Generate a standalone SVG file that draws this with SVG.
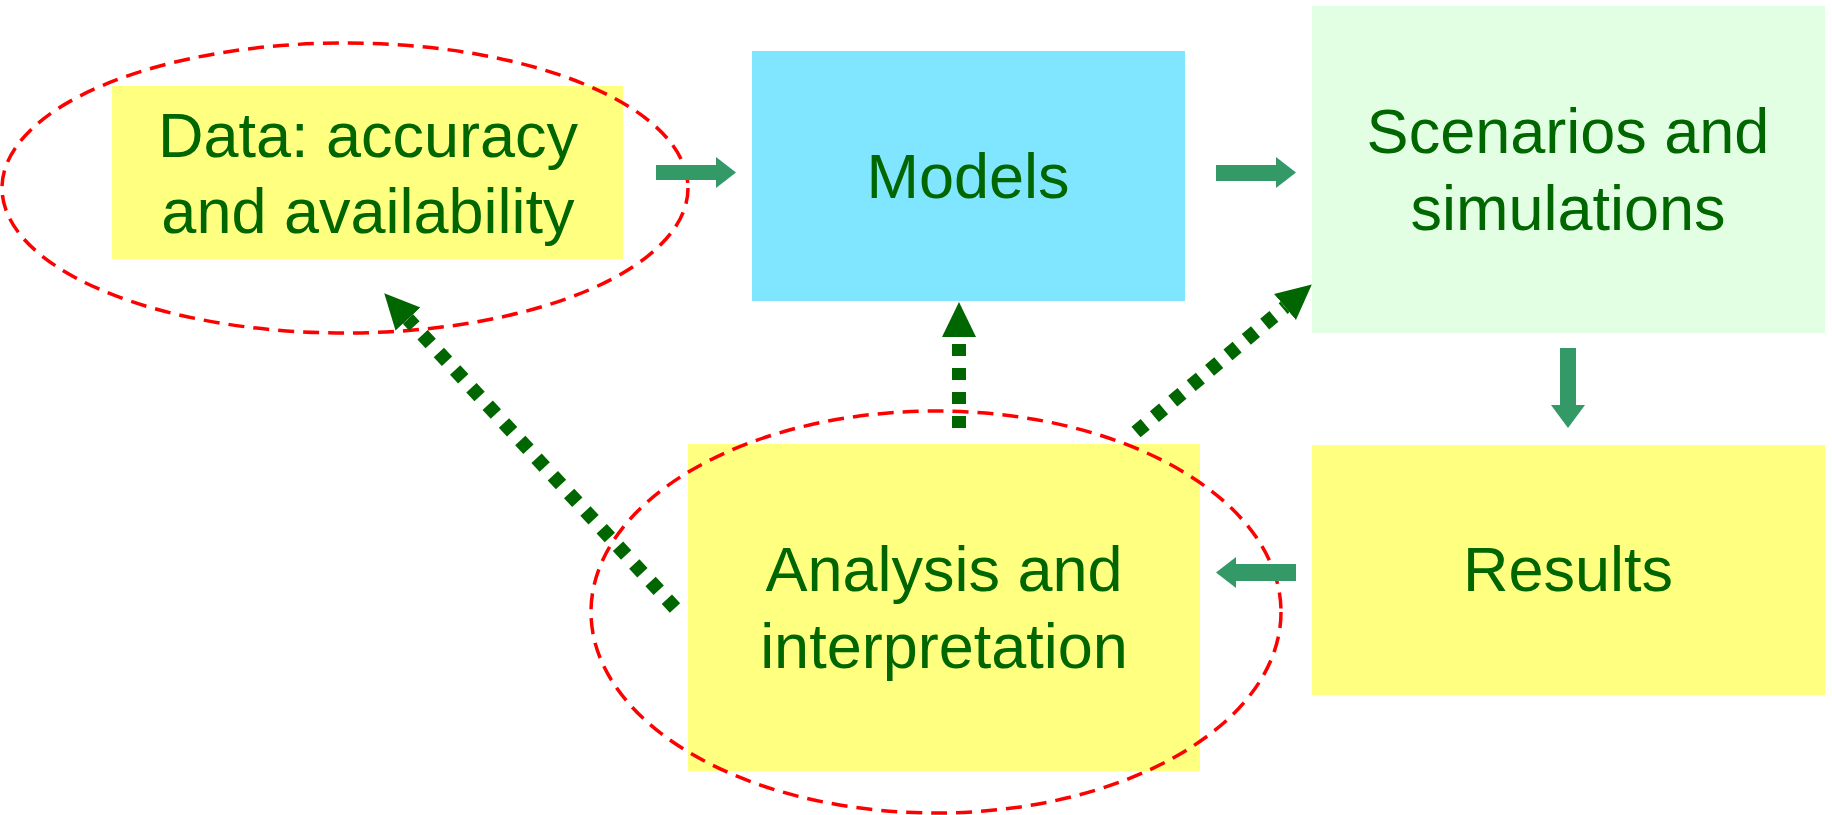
<svg xmlns="http://www.w3.org/2000/svg" width="1832" height="815" viewBox="0 0 1832 815">
<style>
.lbl{font-family:"Liberation Sans",Arial,sans-serif;font-size:63px;fill:#006600;text-anchor:middle}
.ring{fill:none;stroke:#FF0000;stroke-width:3.5;stroke-dasharray:16 9}
.solid{fill:#339966}
.dot{stroke:#006600;stroke-width:14;stroke-dasharray:12 12;fill:none}
</style>
<defs>
<marker id="head" markerUnits="userSpaceOnUse" markerWidth="36" markerHeight="36" refX="0" refY="17" orient="auto" viewBox="0 0 36 34">
<path d="M0,0 L35,17 L0,34 z" fill="#006600"/>
</marker>
</defs>
<rect width="1832" height="815" fill="#ffffff"/>
<g id="node-data">
<rect x="112" y="86" width="511" height="173" fill="#FFFF80"/>
<text class="lbl" x="368" y="157">Data: accuracy</text>
<text class="lbl" x="368" y="233">and availability</text>
</g>
<g id="node-models">
<rect x="752" y="51" width="433" height="250" fill="#80E5FF"/>
<text class="lbl" x="968" y="198">Models</text>
</g>
<g id="node-scenarios">
<rect x="1312" y="6" width="513" height="327" fill="#E3FFE3"/>
<text class="lbl" x="1568" y="153">Scenarios and</text>
<text class="lbl" x="1568" y="230">simulations</text>
</g>
<g id="node-results">
<rect x="1312" y="445" width="513" height="250" fill="#FFFF80"/>
<text class="lbl" x="1568" y="591">Results</text>
</g>
<g id="node-analysis">
<rect x="688" y="444" width="512" height="327" fill="#FFFF80"/>
<text class="lbl" x="944" y="591">Analysis and</text>
<text class="lbl" x="944" y="668">interpretation</text>
</g>
<g id="highlights">
<ellipse class="ring" cx="345" cy="188" rx="343" ry="145"/>
<ellipse class="ring" cx="936" cy="612" rx="345" ry="201"/>
</g>
<g id="connectors">
<polygon class="solid" points="656,165 716,165 716,157 736,172.5 716,188 716,180 656,180"/>
<polygon class="solid" points="1216,165 1276,165 1276,157 1296,172.5 1276,188 1276,181 1216,181"/>
<polygon class="solid" points="1560,348 1576,348 1576,405 1585,405 1568,428 1551,405 1560,405"/>
<polygon class="solid" points="1296,564 1236,564 1236,557 1216,572.5 1236,588 1236,581 1296,581"/>
<line class="dot" x1="959" y1="428" x2="959" y2="337" marker-end="url(#head)"/>
<line class="dot" x1="1136" y1="432" x2="1285" y2="307" marker-end="url(#head)"/>
<line class="dot" x1="675" y1="608" x2="408" y2="319" marker-end="url(#head)"/>
</g>
</svg>
